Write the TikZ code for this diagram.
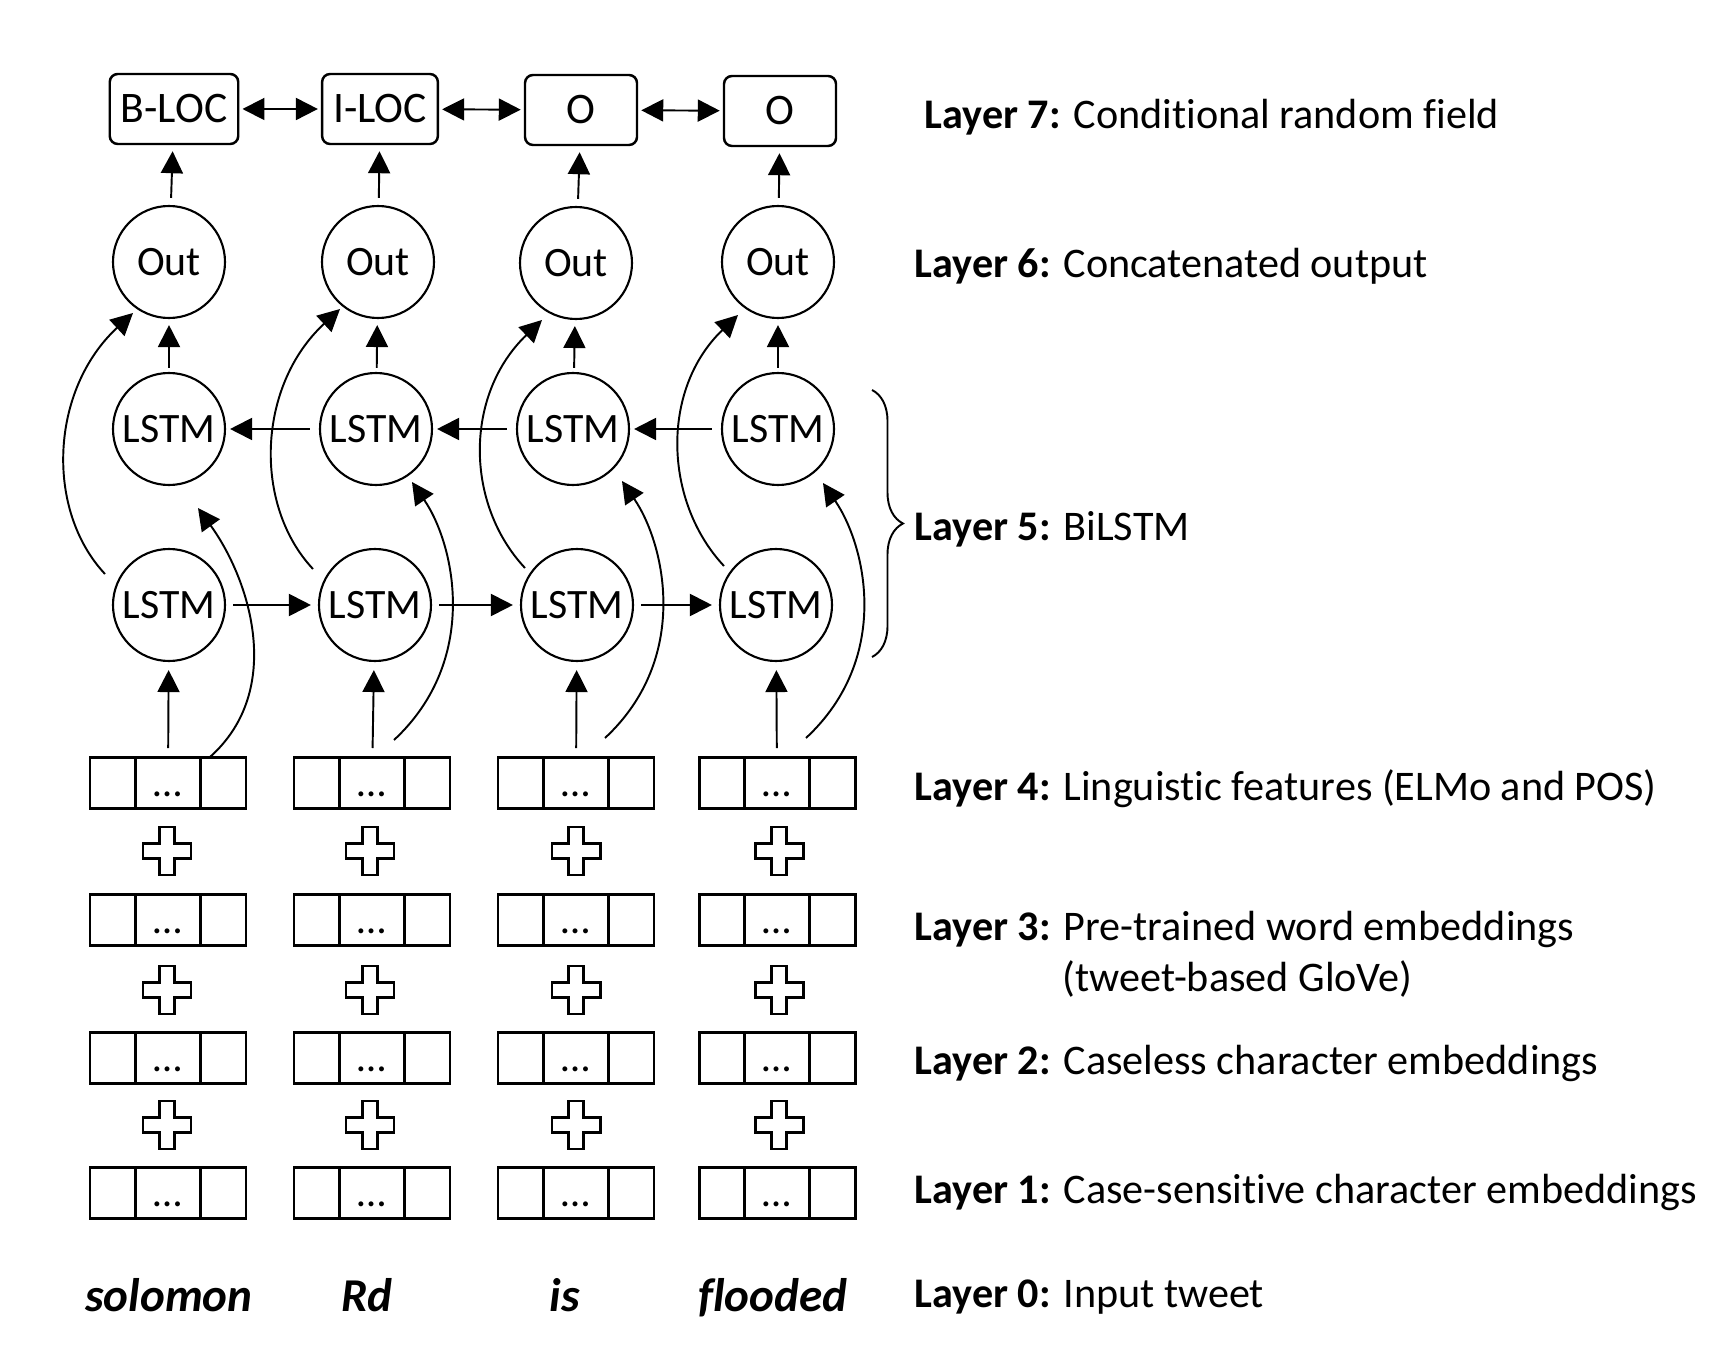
\documentclass[tikz,border=0pt]{standalone}
\usepackage{fontspec}
\setmainfont[Ligatures=NoCommon]{Carlito}
\usetikzlibrary{arrows.meta, calc, decorations.pathreplacing}
\tikzset{
  cell/.style={draw, circle, line width=0.6pt, minimum size=11.2mm, inner sep=0pt,
    font=\fontsize{11.9}{14}\selectfont},
  tagbox/.style={draw, rounded corners=0.8mm, line width=0.7pt, minimum width=11.2mm,
    minimum height=7mm, inner xsep=1.1mm, font=\fontsize{12.4}{14}\selectfont},
  vecbox/.style={draw, line width=0.85pt, minimum width=15.6mm, minimum height=5.1mm, inner sep=0pt},
  dotstext/.style={anchor=base, inner sep=0pt, font=\fontsize{11.7}{14}\selectfont},
  plusline/.style={line width=0.85pt, line join=miter},
  arr/.style={-{Triangle[length=2.2mm,width=2.2mm]}, line width=0.55pt},
  dbl/.style={{Triangle[length=2.2mm,width=2.2mm]}-{Triangle[length=2.2mm,width=2.2mm]},
    line width=0.55pt, shorten <=0.3mm, shorten >=0.3mm},
  layertext/.style={anchor=base west, inner sep=0pt, font=\fontsize{12}{14}\selectfont},
  wordtext/.style={anchor=base, inner sep=0pt, font=\fontsize{13.4}{15}\selectfont\bfseries\itshape}
}
\begin{document}
\begin{tikzpicture}[x=0.1mm, y=-0.1mm]
  \useasboundingbox (0,0) rectangle (1730,1356);
  % Layer 7: CRF tags
  \node[tagbox] (tag1) at (174,109) {B-LOC};
  \node[tagbox] (tag2) at (380,109) {I-LOC};
  \node[tagbox] (tag3) at (581,110) {O};
  \node[tagbox] (tag4) at (780,111) {O};
  \draw[dbl] (tag1) -- (tag2);
  \draw[dbl] (tag2) -- (tag3);
  \draw[dbl] (tag3) -- (tag4);
  % Layer 6: output cells
  \node[cell] (out1) at (169,262) {Out};
  \node[cell] (out2) at (378,262) {Out};
  \node[cell] (out3) at (576,263) {Out};
  \node[cell] (out4) at (778,262) {Out};
  % Layer 5: backward and forward LSTM
  \node[cell] (lb1) at (169,429) {LSTM};
  \node[cell] (lb2) at (376,429) {LSTM};
  \node[cell] (lb3) at (573,429) {LSTM};
  \node[cell] (lb4) at (778,429) {LSTM};
  \node[cell] (lf1) at (169,605) {LSTM};
  \node[cell] (lf2) at (375,605) {LSTM};
  \node[cell] (lf3) at (577,605) {LSTM};
  \node[cell] (lf4) at (776,605) {LSTM};
  % Layers 1-4: feature vectors and pluses
  \foreach \r/\y in {4/783, 3/920, 2/1058, 1/1193} {
    \foreach \c/\x in {1/168, 2/372, 3/576, 4/777} {
      \node[vecbox] (v\r\c) at (\x,\y) {};
      \draw[line width=0.85pt] ([xshift=4.7mm]v\r\c.south west) -- ([xshift=4.7mm]v\r\c.north west);
      \draw[line width=0.85pt] ([xshift=-4.7mm]v\r\c.south east) -- ([xshift=-4.7mm]v\r\c.north east);
      \node[dotstext] (d\r\c) at ([yshift=-1.3mm]v\r\c.center) {…};
    }
  }
  \foreach \x in {167, 370, 576, 779} {
    \foreach \y in {851, 990, 1125} {
      \draw[plusline] (\x,\y) ++(-7.5,-24) -- ++(15,0) -- ++(0,16.5) -- ++(16.5,0) -- ++(0,15)
        -- ++(-16.5,0) -- ++(0,16.5) -- ++(-15,0) -- ++(0,-16.5) -- ++(-16.5,0) -- ++(0,-15)
        -- ++(16.5,0) -- cycle;
    }
  }
  % straight connectors
  \foreach \c in {1,...,4} {
    \draw[arr, shorten <=0.7mm, shorten >=0.6mm] (out\c) -- (tag\c);
    \draw[arr, shorten <=0.4mm, shorten >=0.6mm] (lb\c) -- (out\c);
    \draw[arr, shorten <=0.8mm, shorten >=0.8mm] (v4\c) -- (lf\c);
  }
  \draw[arr, shorten <=0.7mm, shorten >=0.7mm] (lf1) -- (lf2);
  \draw[arr, shorten <=0.7mm, shorten >=0.7mm] (lf2) -- (lf3);
  \draw[arr, shorten <=0.7mm, shorten >=0.7mm] (lf3) -- (lf4);
  \draw[arr, shorten <=0.9mm, shorten >=0.4mm] (lb4) -- (lb3);
  \draw[arr, shorten <=0.9mm, shorten >=0.4mm] (lb3) -- (lb2);
  \draw[arr, shorten <=0.9mm, shorten >=0.4mm] (lb2) -- (lb1);
  % forward LSTM to output, curving left
  \draw[arr] ($(lf1)+(-64,-31)$) .. controls +(-60,-64) and +(-83,77) .. ($(out1)+(-36,51)$);
  \draw[arr] ($(lf2)+(-62,-36)$) .. controls +(-60,-64) and +(-83,77) .. ($(out2)+(-38,47)$);
  \draw[arr] ($(lf3)+(-52,-37)$) .. controls +(-60,-64) and +(-78,75) .. ($(out3)+(-34,57)$);
  \draw[arr] ($(lf4)+(-52,-39)$) .. controls +(-60,-64) and +(-78,75) .. ($(out4)+(-40,53)$);
  % features to backward LSTM, curving right
  \draw[arr] ($(v41)+(42,-26)$) .. controls +(75,-67) and +(52,72) .. ($(lb1)+(29,79)$);
  \draw[arr] ($(v42)+(22,-43)$) .. controls +(86,-80) and +(43,63) .. ($(lb2)+(36,53)$);
  \draw[arr] ($(v43)+(29,-45)$) .. controls +(86,-80) and +(43,63) .. ($(lb3)+(49,52)$);
  \draw[arr] ($(v44)+(29,-45)$) .. controls +(86,-80) and +(43,63) .. ($(lb4)+(45,54)$);
  % brace round the BiLSTM
  \coordinate (bracetop) at (872,390);
  \coordinate (bracebot) at (872,657);
  \draw[decorate, decoration={brace, amplitude=3.1mm}, line width=0.55pt] (bracetop) -- (bracebot);
  % layer captions
  \node[layertext] (lay7) at (924,129) {\textbf{Layer 7:} Conditional random field};
  \node[layertext] (lay6) at (914,278) {\textbf{Layer 6:} Concatenated output};
  \node[layertext] (lay5) at (914,540) {\textbf{Layer 5:} BiLSTM};
  \node[layertext] (lay4) at (914,801) {\textbf{Layer 4:} Linguistic features (ELMo and POS)};
  \node[layertext] (lay3) at (914,940) {\textbf{Layer 3:} Pre-trained word embeddings};
  \node[layertext] (lay3b) at (1062,991) {(tweet-based GloVe)};
  \node[layertext] (lay2) at (914,1074) {\textbf{Layer 2:} Caseless character embeddings};
  \node[layertext] (lay1) at (914,1203) {\textbf{Layer 1:} Case-sensitive character embeddings};
  \node[layertext] (lay0) at (914,1307) {\textbf{Layer 0:} Input tweet};
  % Layer 0: input words
  \node[wordtext] (w1) at (169,1311) {solomon};
  \node[wordtext] (w2) at (367,1311) {Rd};
  \node[wordtext] (w3) at (565,1311) {is};
  \node[wordtext] (w4) at (773,1311) {flooded};
\end{tikzpicture}
\end{document}
